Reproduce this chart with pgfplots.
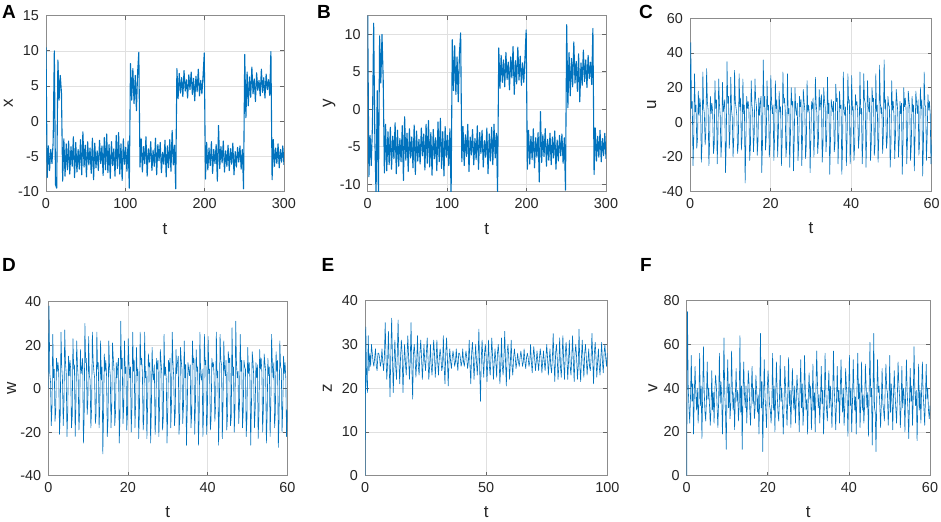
\documentclass[border=0pt]{standalone}
\usepackage{fontspec}
\setmainfont{Liberation Sans}
\usepackage{pgfplots}
\pgfplotsset{compat=1.18}
\definecolor{mblue}{RGB}{0,114,189}
\definecolor{tickc}{RGB}{38,38,38}
\pgfplotsset{
  panel/.style={
    scale only axis,
    axis line style={black!45, line width=0.4pt},
    tick style={black!60, line width=0.4pt},
    major tick length=2pt,
    tick align=inside,
    grid=major,
    major grid style={black!12, line width=0.3pt},
    tick label style={font=\fontsize{7.2}{8}\selectfont, text=tickc},
    label style={font=\fontsize{8.5}{10}\selectfont, text=tickc},
    /pgf/number format/assume math mode=true,
    scaled ticks=false,
    xlabel={t},
    xlabel style={at={(axis description cs:0.5,-0.21)}, anchor=center},
  },
  ylab/.style={ylabel style={at={(axis description cs:#1,0.5)}, anchor=center}},
  dline/.style={mblue, line width=0.55pt, line join=round},
  sline/.style={mblue, line width=0.3pt, line join=round},
}
\newcommand{\plet}{\fontsize{9.5}{11}\selectfont\bfseries}
\begin{document}
\begin{tikzpicture}
\useasboundingbox (0,0) rectangle (470.5pt,261pt);
% ---------------- A ----------------
\begin{axis}[panel, at={(23pt,165.15pt)}, anchor=south west, width=119pt, height=88pt,
  xmin=0, xmax=300, ymin=-10, ymax=15, xtick={0,100,200,300}, ytick={-10,-5,0,5,10,15},
  ylabel={x}, ylab=-0.158]
\addplot[dline] table[row sep=\\, header=false, x expr=\coordindex*1.5, y index=0] {
10.5\\-8\\-3.5\\-7\\-4\\-6\\-3\\10\\-9\\-9.5\\8.7\\3\\6.5\\4\\-8.5\\
-2.5\\-7.8\\-3.2\\-6.9\\-2.8\\-7.5\\-3.6\\-6.4\\-2.2\\-8.0\\
-3.0\\-7.2\\-4.0\\-6.8\\-2.6\\-7.6\\-1.5\\-6.5\\-3.4\\-7.9\\
-2.9\\-6.2\\-3.8\\-7.4\\-2.4\\-8.3\\-3.1\\-6.6\\-4.2\\-7.0\\
-2.7\\-6.0\\-3.5\\-7.7\\-2.3\\-6.9\\-1.8\\-7.3\\-3.3\\-8.1\\
-2.9\\-6.3\\-3.9\\-7.8\\-2.0\\-6.7\\-1.6\\-7.5\\-3.2\\-8.4\\
-2.5\\-6.1\\-3.7\\-7.1\\-2.8\\
-9.5\\8.2\\3.0\\7.5\\2.5\\6.5\\1.5\\7.0\\9.8\\
-6.5\\-2.5\\-7.2\\-3.6\\-6.0\\-2.2\\-7.8\\-3.9\\-5.8\\-2.9\\
-7.0\\-4.1\\-6.4\\-2.4\\-7.6\\-3.3\\-5.6\\-3.0\\-7.3\\-4.4\\
-6.1\\-2.7\\-7.9\\-3.5\\-6.6\\-2.6\\-7.1\\-1.3\\-6.2\\-3.4\\
-9.6\\7.5\\
3.2\\6.8\\4.0\\6.2\\3.5\\7.2\\4.3\\5.9\\3.3\\6.6\\4.5\\7.0\\3.8\\6.1\\2.9\\6.4\\4.2\\7.4\\3.6\\5.8\\3.9\\6.5\\
9.7\\-8.2\\
-3.0\\-6.9\\-3.8\\-6.3\\-2.9\\-7.4\\-4.0\\-6.0\\-3.3\\-8.5\\
-0.6\\-6.7\\-3.6\\-5.9\\-2.8\\-7.2\\-4.2\\-6.4\\-3.4\\-7.0\\
-3.9\\-6.1\\-3.1\\-7.6\\-4.3\\-6.5\\-3.7\\-5.8\\-3.5\\-6.8\\-4.0\\
-9.6\\9.5\\
0.5\\7.0\\2.2\\6.3\\3.4\\7.7\\3.9\\6.0\\2.8\\6.9\\4.4\\5.8\\3.6\\7.4\\4.1\\6.2\\3.3\\6.7\\4.5\\5.9\\3.7\\
9.9\\-8.3\\
-2.6\\-6.4\\-3.8\\-6.0\\-3.2\\-6.6\\-4.0\\-5.8\\-3.5\\-6.2\\
};
\end{axis}
% ---------------- B ----------------
\begin{axis}[panel, at={(183.85pt,165.15pt)}, anchor=south west, width=119.15pt, height=88pt,
  xmin=0, xmax=300, ymin=-11, ymax=12.5, xtick={0,100,200,300}, ytick={-10,-5,0,5,10},
  ylabel={y}, ylab=-0.162]
\addplot[dline] table[row sep=\\, header=false, x expr=\coordindex*1.5, y index=0] {
12.5\\-9\\-3.5\\-7.5\\-2.0\\11.5\\-4\\-11.5\\2.5\\-11.5\\9.8\\3.5\\10.0\\4.0\\-8.5\\
-2.0\\-8.2\\-3.0\\-7.4\\-2.4\\-8.0\\-3.6\\-6.6\\-1.8\\-8.6\\
-2.8\\-7.6\\-3.9\\-7.0\\-2.2\\-9.5\\-1.0\\-6.8\\-3.2\\-8.3\\
-2.6\\-6.5\\-3.7\\-7.8\\-2.1\\-8.7\\-2.9\\-6.9\\-4.0\\-7.3\\
-2.5\\-6.2\\-3.3\\-8.1\\-2.0\\-7.2\\-1.5\\-7.7\\-3.1\\-8.8\\
-2.7\\-6.6\\-3.8\\-8.2\\-1.7\\-7.0\\-1.2\\-7.9\\-3.0\\-8.9\\
-2.3\\-6.4\\-3.5\\-7.5\\-2.6\\
-11.5\\9.3\\2.5\\8.5\\2.0\\7.0\\1.0\\7.5\\10.2\\
-7.0\\-2.3\\-7.5\\-3.4\\-6.3\\-2.0\\-8.3\\-3.7\\-6.1\\-2.7\\
-7.4\\-3.9\\-6.7\\-2.2\\-8.0\\-3.1\\-5.9\\-2.8\\-7.7\\-4.2\\
-6.4\\-2.5\\-8.6\\-3.3\\-6.9\\-2.4\\-7.4\\-2.0\\-6.5\\-3.2\\
-11\\8.2\\
2.8\\7.2\\3.6\\6.6\\3.0\\7.6\\4.0\\6.3\\2.6\\7.0\\4.2\\8.4\\2.0\\6.5\\3.4\\8.3\\3.9\\7.1\\3.2\\6.2\\3.6\\6.9\\
10.6\\-8.0\\
-2.8\\-7.3\\-3.6\\-6.7\\-2.6\\-7.8\\-3.8\\-6.4\\-3.1\\-9.7\\
-0.3\\-7.1\\-3.4\\-6.3\\-2.6\\-7.6\\-4.0\\-6.8\\-3.2\\-7.4\\
-3.7\\-6.5\\-2.9\\-8.0\\-4.1\\-6.9\\-3.5\\-6.2\\-3.3\\-7.2\\-3.8\\
-10.8\\11.3\\
0.2\\7.6\\1.8\\6.8\\3.0\\9.0\\3.5\\6.4\\2.4\\7.4\\1.0\\6.2\\3.2\\7.9\\3.7\\6.6\\2.9\\7.2\\4.1\\6.3\\3.3\\
10.8\\-8.7\\
-2.5\\-6.9\\-3.6\\-6.4\\-2.8\\-7.0\\-3.9\\-6.2\\-3.2\\-6.6\\
};
\end{axis}
% ---------------- C ----------------
\begin{axis}[panel, at={(345pt,165.15pt)}, anchor=south west, width=120.85pt, height=86.7pt,
  xmin=0, xmax=60, ymin=-40, ymax=60, xtick={0,20,40,60}, ytick={-40,-20,0,20,40,60},
  ylabel={u}, ylab=-0.158]
\addplot[sline] table[row sep=\\, header=false, x expr=\coordindex*0.1875, y index=0] {
2\\
46\\8\\12\\-25\\-8\\ 28\\6\\10\\-15\\-9\\ 18\\4\\14\\9\\-23\\-12\\ 29\\9\\5\\-13\\-6\\ 31\\12\\7\\-25\\-10\\
15\\5\\11\\6\\-18\\-14\\ 24\\8\\13\\-24\\-7\\ 25\\10\\4\\-20\\-11\\ 23\\6\\9\\13\\-29\\-13\\ 35\\11\\15\\-15\\-6\\
26\\7\\3\\-20\\-9\\ 30\\12\\8\\4\\-18\\-12\\ 28\\9\\14\\-16\\-8\\ 25\\5\\10\\-35\\-10\\ 15\\8\\12\\7\\-22\\-14\\
24\\10\\6\\-17\\-7\\ 25\\13\\9\\-19\\-11\\ 14\\4\\11\\15\\-29\\-12\\ 36\\9\\15\\-16\\-8\\ 24\\7\\10\\-20\\-13\\
27\\12\\5\\10\\-22\\-9\\ 24\\8\\13\\-20\\-6\\ 18\\6\\9\\-25\\-11\\ 29\\11\\14\\8\\-20\\-14\\ 28\\5\\8\\-26\\-7\\
20\\10\\12\\-28\\-10\\ 20\\7\\4\\11\\-22\\-12\\ 15\\9\\13\\-25\\-8\\ 19\\12\\7\\-21\\-13\\ 24\\6\\10\\5\\-29\\-9\\
12\\8\\14\\-20\\-6\\ 26\\11\\5\\-18\\-11\\ 19\\7\\12\\16\\-23\\-14\\ 20\\13\\9\\-17\\-8\\ 26\\5\\11\\-30\\-10\\
13\\9\\6\\12\\-17\\-12\\ 22\\12\\14\\-24\\-7\\ 18\\8\\10\\-30\\-13\\ 29\\6\\4\\9\\-25\\-9\\ 28\\11\\13\\-24\\-11\\
27\\7\\9\\-22\\-14\\ 16\\10\\12\\6\\-15\\-8\\ 29\\5\\8\\-24\\-10\\ 28\\13\\11\\-26\\-6\\ 24\\9\\6\\14\\-22\\-12\\
20\\12\\14\\-19\\-13\\ 28\\6\\10\\-23\\-9\\ 33\\11\\5\\9\\-18\\-7\\ 36\\8\\13\\-15\\-11\\ 15\\10\\9\\-26\\-14\\
24\\7\\12\\4\\-21\\-8\\ 19\\13\\6\\-20\\-10\\ 12\\5\\11\\-30\\-12\\ 20\\9\\14\\8\\-24\\-9\\ 18\\12\\8\\-22\\-13\\
15\\6\\10\\-28\\-7\\ 18\\11\\5\\13\\-19\\-11\\ 20\\8\\13\\-31\\-14\\ 29\\10\\9\\-22\\-8\\ 16\\7\\12\\5\\-24\\-10\\
};
\end{axis}
% ---------------- D ----------------
\begin{axis}[panel, at={(24.15pt,23.15pt)}, anchor=south west, width=119.5pt, height=87pt,
  xmin=0, xmax=60, ymin=-40, ymax=40, xtick={0,20,40,60}, ytick={-40,-20,0,20,40},
  ylabel={w}, ylab=-0.153]
\addplot[sline] table[row sep=\\, header=false, x expr=\coordindex*0.1875, y index=0] {
0\\
38\\7\\3\\-17\\-8\\ 25\\5\\9\\-15\\-10\\ 14\\8\\12\\7\\-21\\-12\\ 26\\10\\4\\-17\\-6\\ 27\\12\\7\\-22\\-11\\
15\\6\\13\\9\\-18\\-13\\ 23\\9\\11\\-22\\-7\\ 22\\11\\5\\-19\\-10\\ 18\\7\\10\\14\\-25\\-14\\ 30\\12\\14\\-12\\-6\\
24\\6\\4\\-18\\-9\\ 26\\13\\8\\5\\-16\\-12\\ 26\\9\\12\\-18\\-8\\ 22\\4\\10\\-30\\-11\\ 16\\8\\13\\6\\-22\\-14\\
22\\10\\6\\-18\\-7\\ 21\\14\\9\\-17\\-11\\ 12\\5\\11\\14\\-25\\-13\\ 31\\9\\14\\-16\\-8\\ 22\\7\\10\\-19\\-12\\
23\\12\\5\\10\\-20\\-9\\ 26\\8\\13\\-18\\-6\\ 19\\6\\9\\-23\\-11\\ 26\\11\\14\\7\\-19\\-13\\ 26\\5\\8\\-23\\-7\\
16\\10\\12\\-25\\-10\\ 19\\7\\4\\11\\-21\\-12\\ 14\\9\\13\\-22\\-8\\ 18\\12\\7\\-19\\-13\\ 25\\6\\10\\4\\-25\\-9\\
13\\8\\14\\-18\\-6\\ 26\\11\\5\\-17\\-11\\ 18\\7\\12\\15\\-21\\-14\\ 19\\13\\9\\-16\\-8\\ 22\\5\\11\\-26\\-10\\
12\\9\\6\\11\\-18\\-12\\ 22\\12\\14\\-21\\-7\\ 18\\8\\10\\-26\\-13\\ 26\\6\\4\\9\\-22\\-9\\ 25\\11\\13\\-21\\-11\\
24\\7\\9\\-19\\-14\\ 14\\10\\12\\6\\-15\\-8\\ 26\\5\\8\\-26\\-10\\ 25\\13\\11\\-23\\-6\\ 22\\9\\6\\13\\-19\\-12\\
17\\12\\14\\-17\\-13\\ 28\\6\\10\\-20\\-9\\ 31\\11\\5\\8\\-16\\-7\\ 25\\8\\13\\-18\\-11\\ 13\\10\\9\\-22\\-14\\
19\\7\\12\\4\\-26\\-8\\ 17\\13\\6\\-18\\-10\\ 12\\5\\11\\-23\\-12\\ 18\\9\\14\\7\\-20\\-9\\ 16\\12\\8\\-25\\-13\\
14\\6\\10\\-22\\-7\\ 25\\11\\5\\12\\-18\\-11\\ 17\\8\\13\\-27\\-14\\ 22\\10\\9\\-20\\-8\\ 15\\7\\12\\5\\-22\\-10\\
};
\end{axis}
% ---------------- E ----------------
\begin{axis}[panel, at={(182.5pt,23.15pt)}, anchor=south west, width=121.15pt, height=87.5pt,
  xmin=0, xmax=100, ymin=0, ymax=40, xtick={0,50,100}, ytick={0,10,20,30,40},
  ylabel={z}, ylab=-0.155]
\addplot[sline] table[row sep=\\, header=false, x expr=\coordindex/3, y index=0] {
0\\34\\22\\19\\32\\24\\28\\25\\30\\
28\\26\\25\\27\\ 29\\25\\24\\28\\ 28\\27\\25\\26\\ 29\\26\\24\\27\\ 35\\27\\22\\26\\
33\\25\\18\\28\\ 36\\27\\19\\26\\ 31\\25\\22\\28\\ 35.6\\26\\21\\27\\ 31\\28\\19\\25\\
30\\26\\23\\27\\ 32\\27\\22\\26\\ 35\\25\\17.5\\28\\ 30\\27\\22.5\\26\\ 32\\25\\23\\28\\
31\\27\\22\\26\\ 30\\26\\24\\28\\ 31.5\\27\\22\\25\\ 30\\25\\23\\27\\ 31\\28\\22.5\\26\\
31\\26\\23\\27\\ 29\\27\\24\\25\\ 32\\25\\21\\28\\ 31.5\\27\\20.5\\26\\ 29\\26\\24.5\\27\\
28.5\\27\\25\\26\\ 29\\26\\24\\28\\ 28\\27\\25\\26\\ 29\\26\\25\\27\\ 28.5\\27\\24.5\\26\\
31\\25\\21\\28\\ 30.5\\27\\22\\26\\ 30\\26\\23\\27\\ 33.5\\24\\17\\27\\ 31\\26\\22.5\\28\\
30\\27\\21.5\\26\\ 31\\25\\23\\27\\ 31.5\\27\\22\\26\\ 29\\26\\22.5\\28\\ 30\\27\\21\\25\\
31.5\\25\\23\\27\\ 33\\26\\20.5\\28\\ 30\\27\\22\\26\\ 31\\25\\23\\27\\ 29\\27\\24.5\\26\\
28\\26\\25\\27\\ 28.5\\27\\25\\26\\ 29\\26\\24.5\\27\\ 28\\27\\25\\26\\ 30\\26\\23.5\\27\\
29.5\\27\\24\\26\\ 28.5\\26\\24\\27\\ 29\\27\\23.5\\26\\ 28.5\\26\\24\\27\\ 30\\27\\23\\26\\
29\\25\\23.5\\27\\ 32.5\\26\\21.5\\28\\ 30\\27\\22\\25\\ 31.5\\25\\22.5\\27\\ 32\\26\\22\\28\\
30.5\\27\\22\\26\\ 31\\25\\23\\27\\ 32\\26\\21.5\\28\\ 30\\27\\22\\25\\ 33.5\\25\\21.5\\27\\
31\\26\\22.5\\28\\ 30\\27\\23\\26\\ 29\\25\\24\\27\\ 32.5\\26\\21\\28\\ 30.5\\27\\22.5\\26\\
29\\25\\23\\27\\ 30.5\\26\\23.5\\28\\ 30\\27\\25\\28\\
};
\end{axis}
% ---------------- F ----------------
\begin{axis}[panel, at={(343.35pt,23.15pt)}, anchor=south west, width=121.65pt, height=87.5pt,
  xmin=0, xmax=60, ymin=0, ymax=80, xtick={0,20,40,60}, ytick={0,20,40,60,80},
  ylabel={v}, ylab=-0.139]
\addplot[sline] table[row sep=\\, header=false, x expr=\coordindex*0.1875, y index=0] {
0\\
75\\40\\31\\24\\36\\ 55\\34\\42\\19\\38\\ 50\\37\\30\\40\\24\\33\\ 56\\32\\41\\17\\37\\ 59\\39\\29\\25\\35\\
52\\35\\40\\32\\23\\31\\ 48\\30\\38\\24\\39\\ 46\\41\\31\\22\\34\\ 56\\33\\43\\36\\19\\36\\ 63\\38\\29\\12\\40\\
53\\31\\42\\26\\33\\ 57\\40\\30\\38\\21\\37\\ 49\\34\\39\\25\\32\\ 64\\29\\41\\12\\38\\ 52\\37\\31\\41\\24\\35\\
48\\42\\30\\23\\39\\ 50\\33\\40\\26\\31\\ 46\\39\\29\\37\\19\\36\\ 65\\31\\43\\11\\34\\ 53\\36\\30\\22\\40\\
48\\40\\32\\30\\24\\33\\ 56\\30\\41\\20\\37\\ 52\\38\\29\\25\\35\\ 55\\34\\40\\31\\19\\32\\ 50\\41\\31\\23\\38\\
54\\32\\39\\22\\36\\ 49\\37\\30\\41\\24\\34\\ 46\\40\\33\\20\\39\\ 53\\31\\42\\23\\31\\ 55\\39\\30\\35\\19\\37\\
47\\35\\41\\21\\33\\ 51\\30\\38\\20\\40\\ 57\\42\\31\\37\\24\\35\\ 50\\33\\39\\19\\32\\ 56\\38\\30\\25\\38\\
48\\31\\41\\33\\22\\36\\ 57\\40\\32\\21\\34\\ 50\\34\\39\\24\\39\\ 53\\37\\29\\40\\23\\31\\ 49\\41\\36\\18\\37\\
55\\32\\40\\20\\33\\ 53\\39\\30\\36\\19\\40\\ 56\\35\\42\\22\\35\\ 52\\30\\37\\24\\32\\ 51\\41\\31\\38\\18\\38\\
61\\36\\40\\14\\34\\ 65\\31\\29\\11\\36\\ 53\\38\\41\\32\\22\\33\\ 49\\33\\30\\25\\39\\ 51\\40\\38\\23\\31\\
55\\29\\42\\35\\21\\37\\ 48\\37\\31\\24\\35\\ 52\\42\\36\\22\\32\\ 50\\31\\40\\36\\20\\38\\ 53\\38\\30\\17\\34\\
49\\34\\41\\23\\36\\ 59\\40\\32\\39\\16\\33\\ 51\\30\\39\\24\\40\\ 52\\37\\31\\23\\35\\ 51\\35\\40\\30\\26\\32\\
};
\end{axis}
% panel letters
\node[font=\plet, text=black] at (4.5pt,255.15pt) {A};
\node[font=\plet, text=black] at (162pt,255.15pt) {B};
\node[font=\plet, text=black] at (323pt,255.15pt) {C};
\node[font=\plet, text=black] at (4.5pt,128.5pt) {D};
\node[font=\plet, text=black] at (164pt,128.5pt) {E};
\node[font=\plet, text=black] at (323pt,128.5pt) {F};
\end{tikzpicture}
\end{document}
